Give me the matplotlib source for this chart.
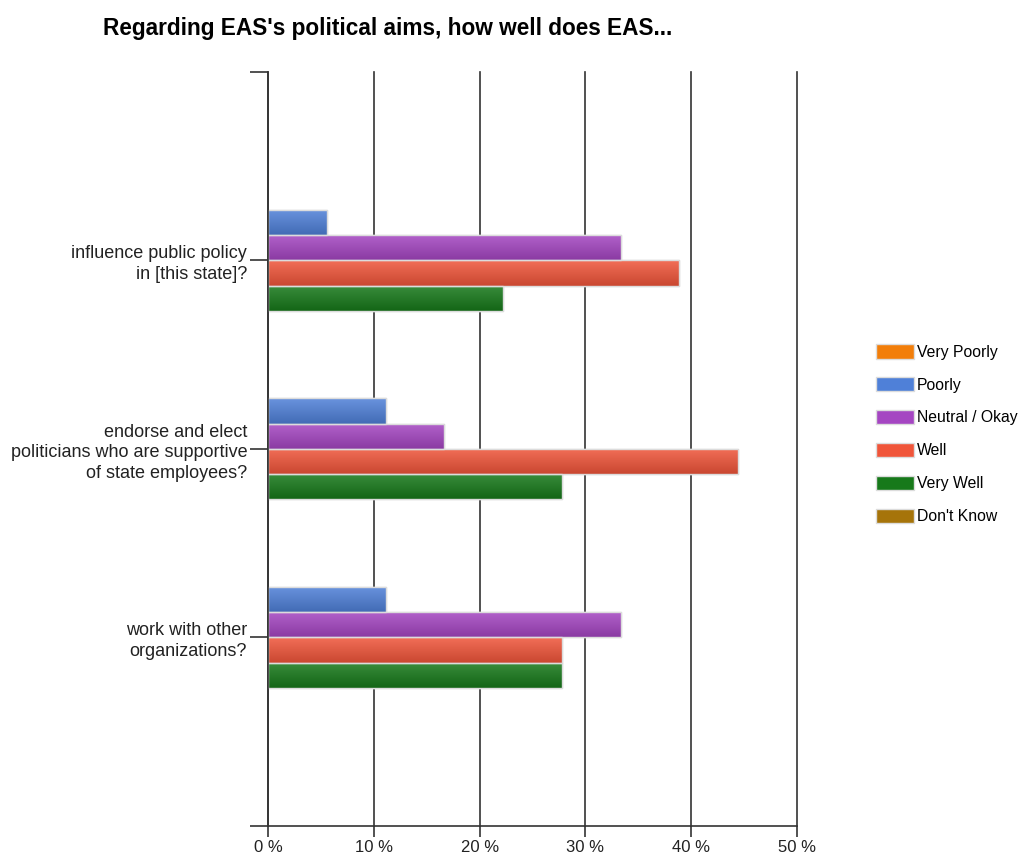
import numpy as np
import matplotlib
matplotlib.use('Agg')
import matplotlib.pyplot as plt
from matplotlib.patches import Patch
from matplotlib.colors import LinearSegmentedColormap, to_rgb

# survey questions (n = 18 answers each), values in percent
questions = ['influence public policy\nin [this state]?',
             'endorse and elect\npoliticians who are supportive\nof state employees?',
             'work with other\norganizations?']
answers = ['Very Poorly', 'Poorly', 'Neutral / Okay', 'Well', 'Very Well', "Don't Know"]
very_poorly = [0.0, 0.0, 0.0]
poorly = [5.56, 11.11, 11.11]
neutral = [33.33, 16.67, 33.33]
well = [38.89, 44.44, 27.78]
very_well = [22.22, 27.78, 27.78]
dont_know = [0.0, 0.0, 0.0]
colors = ['#F27E0A', '#4F80D8', '#A546C2', '#F0553A', '#17791A', '#A6740A']

series = [very_poorly, poorly, neutral, well, very_well, dont_know]

plt.rcParams['font.family'] = ['Liberation Sans', 'DejaVu Sans']

fig = plt.figure(figsize=(10.24, 8.63), dpi=100)
ax = fig.add_axes([0.2617, 0.0429, 0.5166, 0.8737])

y_pos = np.arange(1, len(questions) + 1)
h = 0.134
for k, vals in enumerate(series):
    vals = np.array(vals)
    lw = np.where(vals > 0, 1.0, 0.0)
    bars = ax.barh(y_pos + (k - 2.5) * h, vals, height=h, color=colors[k],
                   edgecolor='#dcdcdc', linewidth=lw, zorder=3)
    # light-to-dark shading like the original chart
    c = np.array(to_rgb(colors[k]))
    cmap = LinearSegmentedColormap.from_list('g', [c + (1 - c) * 0.15, c * 0.84])
    grad = np.linspace(0, 1, 50).reshape(-1, 1)
    for b in bars:
        if b.get_width() <= 0:
            continue
        x0, y0 = b.get_x(), b.get_y()
        im = ax.imshow(grad, cmap=cmap, aspect='auto', origin='upper',
                       extent=[x0, x0 + b.get_width(), y0 + h, y0], zorder=3.2)
        im.set_clip_path(b)
    ax.barh(y_pos + (k - 2.5) * h, vals, height=h, fill=False,
            edgecolor='#dcdcdc', linewidth=lw, zorder=3.4)

ax.set_xlim(0, 50)
ax.set_ylim(4, 0)
ax.set_xticks(np.arange(0, 51, 10))
ax.set_xticklabels(['%d %%' % v for v in range(0, 51, 10)], fontsize=12, color='#222222')
ax.set_yticks([0, 1, 2, 3, 4])
ax.set_yticklabels([''] + questions + [''], fontsize=13, color='#222222', linespacing=1.3)
ax.tick_params(axis='y', length=13, width=1.2, color='#333333', pad=2)
ax.tick_params(axis='x', length=8, width=1.2, color='#333333', pad=2)
ax.xaxis.grid(True, color='#333333', linewidth=1.2, zorder=0)
for line in ax.get_xgridlines():
    line.set_clip_on(False)
for s in ['top', 'right']:
    ax.spines[s].set_visible(False)
for s in ['left', 'bottom']:
    ax.spines[s].set_color('#333333')
    ax.spines[s].set_linewidth(1.2)
    ax.spines[s].set_zorder(4)

fig.text(0.1005, 0.967, "Regarding EAS's political aims, how well does EAS...",
         fontsize=16.3, fontweight='bold', ha='left', va='center', color='black')

handles = [Patch(facecolor=c, edgecolor='#dcdcdc') for c in colors]
fig.legend(handles, answers, loc='center left', bbox_to_anchor=(0.855, 0.497),
           frameon=False, fontsize=11.3, handlelength=2.45, handleheight=1.05,
           handletextpad=0.2, labelspacing=1.1, borderpad=0, borderaxespad=0)

fig.savefig('out.png', dpi=100, facecolor='white')
